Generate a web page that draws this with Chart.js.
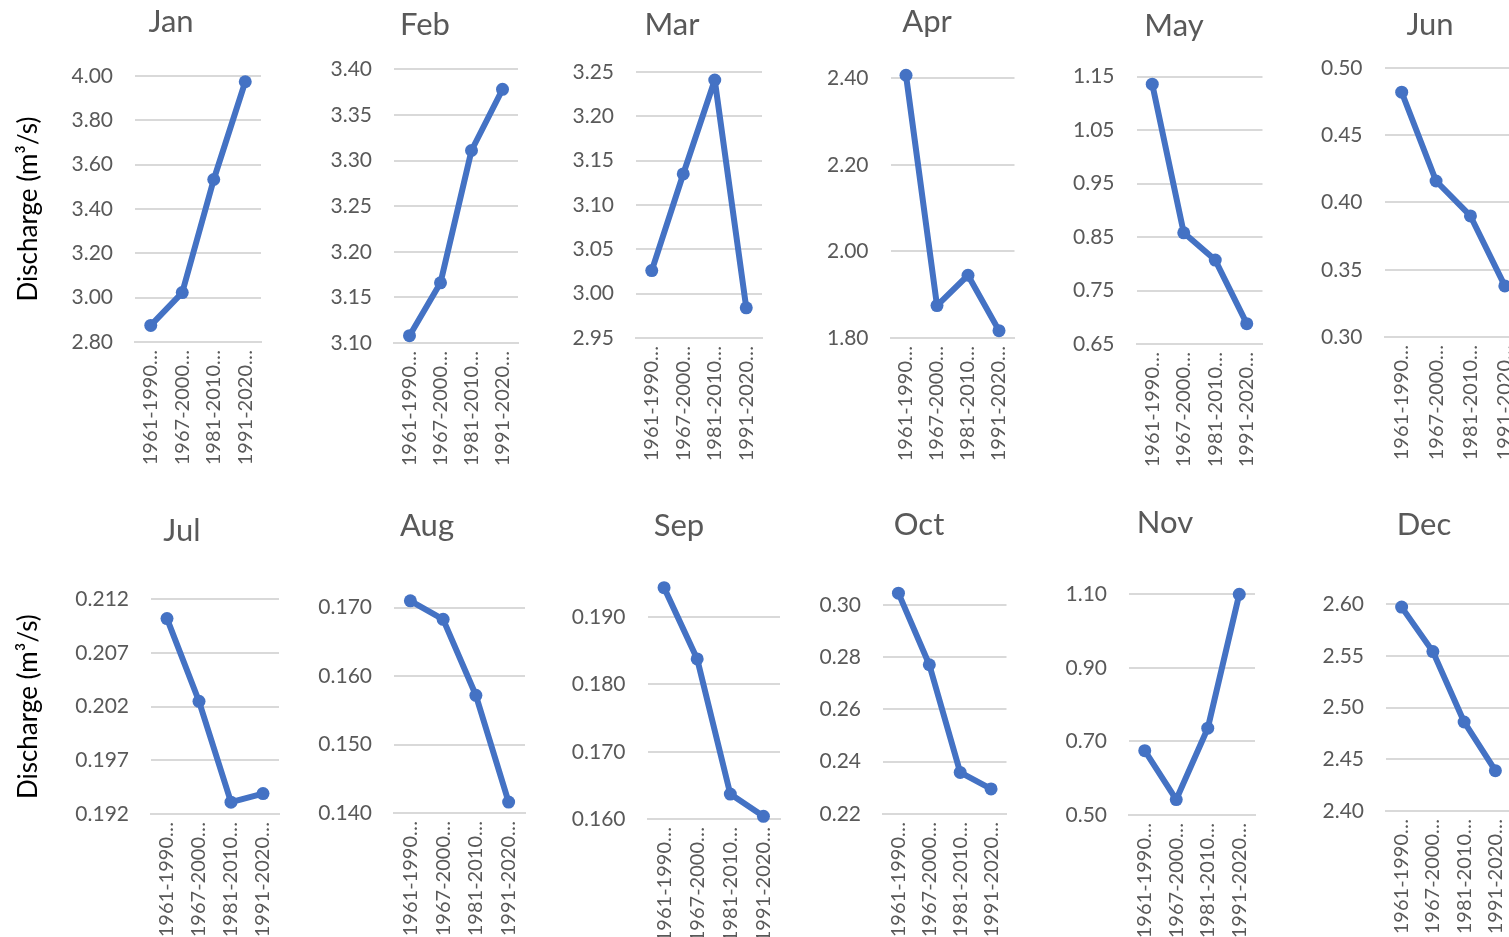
<!DOCTYPE html>
<html>
<head>
<meta charset="utf-8">
<title>Monthly discharge by climate normal period</title>
<script src="https://cdn.jsdelivr.net/npm/chart.js@4/dist/chart.umd.min.js"></script>
<style>
  html, body { margin: 0; padding: 0; background: #fff; }
  #board { position: relative; width: 1509px; height: 937px; overflow: hidden; }
  #board canvas { position: absolute; }
</style>
</head>
<body>
<div id="board"></div>
<script>
// climate normal periods (labels are cut off in the source chart)
const periods = ['1961-1990…', '1967-2000…', '1981-2010…', '1991-2020…'];
const months = ['Jan', 'Feb', 'Mar', 'Apr', 'May', 'Jun', 'Jul', 'Aug', 'Sep', 'Oct', 'Nov', 'Dec'];

// mean discharge (m3/s) per period
const janQ = [2.875, 3.023, 3.533, 3.974];
const febQ = [3.108, 3.166, 3.311, 3.378];
const marQ = [3.026, 3.135, 3.241, 2.984];
const aprQ = [2.407, 1.875, 1.945, 1.817];
const mayQ = [1.136, 0.858, 0.807, 0.688];
const junQ = [0.482, 0.416, 0.390, 0.338];
const julQ = [0.2102, 0.2025, 0.1931, 0.1939];
const augQ = [0.1710, 0.1683, 0.1572, 0.1416];
const sepQ = [0.1944, 0.1838, 0.1637, 0.1604];
const octQ = [0.3045, 0.2771, 0.2359, 0.2296];
const novQ = [0.675, 0.542, 0.736, 1.100];
const decQ = [2.597, 2.554, 2.486, 2.439];
const series = [janQ, febQ, marQ, aprQ, mayQ, junQ, julQ, augQ, sepQ, octQ, novQ, decQ];

// value axis of each panel
const axisMin  = [2.80, 3.10, 2.95, 1.80, 0.65, 0.30, 0.192, 0.140, 0.160, 0.22, 0.50, 2.40];
const axisMax  = [4.00, 3.40, 3.25, 2.40, 1.15, 0.50, 0.212, 0.175, 0.195, 0.31, 1.10, 2.60];
const axisStep = [0.20, 0.05, 0.05, 0.20, 0.10, 0.05, 0.005, 0.010, 0.010, 0.02, 0.20, 0.05];
const axisDecimals = [2, 2, 2, 2, 2, 2, 3, 3, 3, 2, 2, 2];

// where each panel sits on the page: plot area edges, title centre, left edge of tick labels
const panels = [
    { pl: 135,    pr: 261,    pt: 76,    pb: 341.7, tx: 171,  ty: 22,  lx: 0 },
    { pl: 394,    pr: 518,    pt: 69.3,  pb: 342.7, tx: 425,  ty: 25,  lx: 326 },
    { pl: 636,    pr: 762,    pt: 72,    pb: 337.6, tx: 672,  ty: 25,  lx: 566 },
    { pl: 890.5,  pr: 1014.5, pt: 78.3,  pb: 338.3, tx: 927,  ty: 22,  lx: 820 },
    { pl: 1136.5, pr: 1262.5, pt: 76.7,  pb: 344.3, tx: 1174, ty: 26,  lx: 1066 },
    { pl: 1384.5, pr: 1522,   pt: 68,    pb: 337.3, tx: 1430, ty: 25,  lx: 1312 },
    { pl: 151,    pr: 279,    pt: 599.3, pb: 814,   tx: 182,  ty: 531, lx: 0 },
    { pl: 394,    pr: 525,    pt: 573.5, pb: 812.7, tx: 427,  ty: 526, lx: 310 },
    { pl: 647.5,  pr: 780,    pt: 583.6, pb: 819.3, tx: 679,  ty: 526, lx: 564 },
    { pl: 883,    pr: 1006.5, pt: 578.8, pb: 814.3, tx: 919,  ty: 525, lx: 812 },
    { pl: 1129,   pr: 1255,   pt: 594.3, pb: 815,   tx: 1165, ty: 523, lx: 1058 },
    { pl: 1386,   pr: 1511,   pt: 604,   pb: 811,   tx: 1424, ty: 525, lx: 1316 }
];
const AXIS_TITLE_X = 29;

const BLUE = '#4472C4';
const GREY_TEXT = '#595959';
const GRID = '#d9d9d9';
const FONT = 'Lato, "Liberation Sans", sans-serif';
const TITLE_SIZE = 31;
const TITLE_H = TITLE_SIZE * 1.2;
const AXIS_TITLE_SIZE = 26;
const X_AXIS_H = 125;

// Excel centres each title over the whole chart object, not the plot area:
// move the title block so its centre lands on the given x
const titleAt = {
    id: 'titleAt',
    afterLayout(chart, args, opts) {
        const t = chart.titleBlock;
        if (!t || opts.x == null) return;
        const half = (t.right - t.left) / 2;
        t.left = opts.x - half;
        t.right = opts.x + half;
    }
};

const board = document.getElementById('board');

months.forEach((month, i) => {
    const p = panels[i];
    const cl = p.lx;
    const yW = p.pl - cl;
    const cw = Math.ceil(p.pr - cl) + 2;
    const padR = cl + cw - p.pr;
    const top = Math.round(p.ty - TITLE_H / 2);
    const ch = Math.round(p.pb - top + X_AXIS_H);

    const canvas = document.createElement('canvas');
    canvas.width = cw;
    canvas.height = ch;
    canvas.style.left = cl + 'px';
    canvas.style.top = top + 'px';
    board.appendChild(canvas);

    const withAxisTitle = (i === 0 || i === 6);

    new Chart(canvas, {
        type: 'line',
        data: {
            labels: periods,
            datasets: [
                {
                    label: month,
                    data: series[i],
                    borderColor: BLUE,
                    backgroundColor: BLUE,
                    borderWidth: 6,
                    borderJoinStyle: 'round',
                    borderCapStyle: 'round',
                    pointRadius: 6.5,
                    pointBorderWidth: 0,
                    pointBackgroundColor: BLUE,
                    tension: 0,
                    clip: false
                }
            ]
        },
        plugins: [titleAt],
        options: {
            responsive: false,
            animation: false,
            layout: {
                autoPadding: false,
                padding: { left: 0, top: 0, bottom: 0, right: padR }
            },
            scales: {
                x: {
                    offset: true,
                    grid: { display: false, offset: true },
                    border: { color: GRID, width: 2 },
                    ticks: {
                        autoSkip: false,
                        minRotation: 90,
                        maxRotation: 90,
                        padding: 0,
                        color: GREY_TEXT,
                        font: { family: FONT, size: 20 }
                    },
                    afterFit: (s) => {
                        s.height = X_AXIS_H;
                        s.paddingLeft = 0;
                        s.paddingRight = 0;
                    }
                },
                y: {
                    min: axisMin[i],
                    max: axisMax[i],
                    grid: { color: GRID, lineWidth: 2, drawTicks: false },
                    border: { display: false },
                    ticks: {
                        stepSize: axisStep[i],
                        includeBounds: false,
                        padding: 22,
                        color: GREY_TEXT,
                        font: { family: FONT, size: 21 },
                        callback: (v) => Number(v).toFixed(axisDecimals[i])
                    },
                    title: {
                        display: withAxisTitle,
                        text: 'Discharge (m³/s)',
                        color: '#000',
                        padding: { top: AXIS_TITLE_X - AXIS_TITLE_SIZE * 0.6 - cl, bottom: 0 },
                        font: { family: FONT, size: AXIS_TITLE_SIZE }
                    },
                    afterFit: (s) => { s.width = yW; }
                }
            },
            plugins: {
                legend: { display: false },
                tooltip: { enabled: false },
                titleAt: { x: p.tx - cl },
                title: {
                    display: true,
                    text: month,
                    color: GREY_TEXT,
                    font: { family: FONT, size: TITLE_SIZE, weight: 'normal' },
                    padding: { top: 0, bottom: p.pt - top - TITLE_H }
                }
            }
        }
    });
});
</script>
</body>
</html>
